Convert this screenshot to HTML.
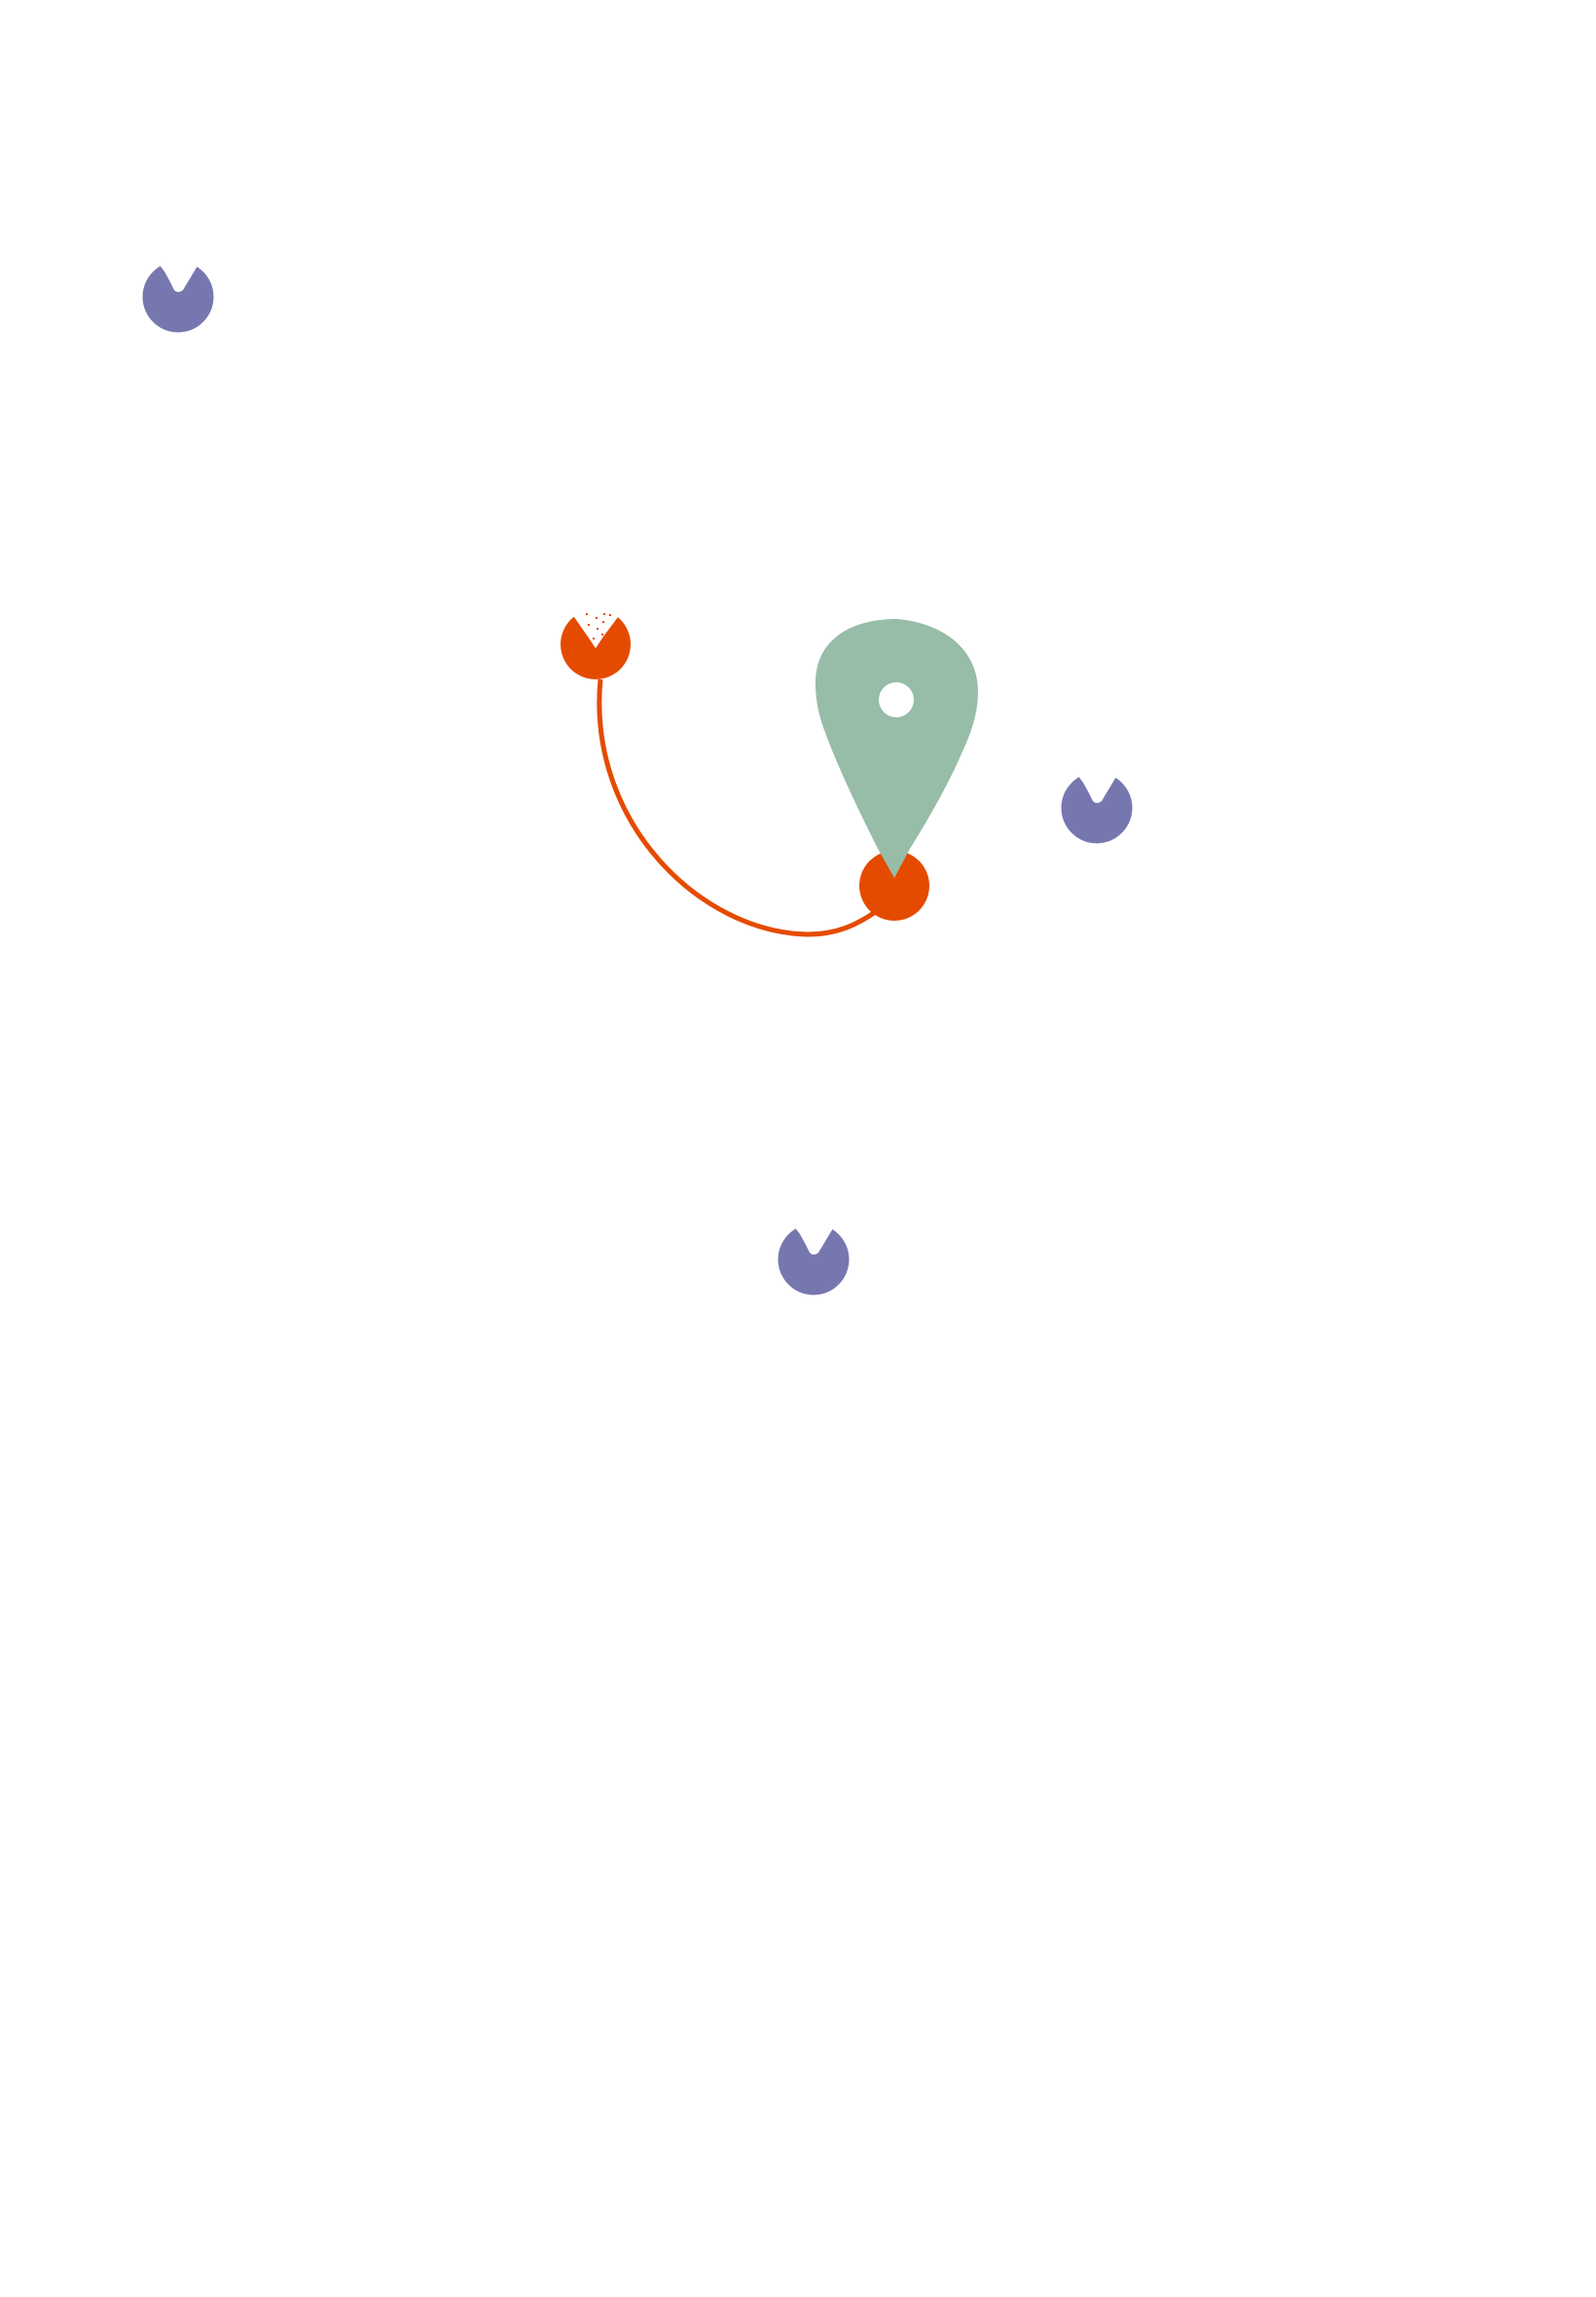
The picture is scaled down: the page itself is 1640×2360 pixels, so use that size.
<!DOCTYPE html>
<html><head><meta charset="utf-8"><style>html,body{margin:0;padding:0;background:#fff}svg{display:block}</style></head>
<body>
<svg width="1640" height="2360" viewBox="0 0 1640 2360" xmlns="http://www.w3.org/2000/svg">
<defs>
<g id="pac">
<circle cx="0" cy="0" r="36.5" fill="#7777b0"/>
<path d="M-20,-45 L-20,-34 L-14,-26 L-9,-17 L-4,-7 Q0,-3 5,-7 L20,-32 L20,-45 Z" fill="#fff"/>
</g>
</defs>
<use href="#pac" x="183" y="305"/>
<use href="#pac" x="1127" y="830"/>
<use href="#pac" x="836" y="1294"/>
<path d="M617,698 C603,845 720,958 830,960 C860,960 880,950 898,938" fill="none" stroke="#e54b00" stroke-width="5"/>
<circle cx="612" cy="662" r="36" fill="#e54b00"/>
<polygon points="590,620 590,634 604,654 612,666 620,654 635,634 635,620" fill="#fff"/>
<g fill="#e54b00">
<rect x="602" y="630" width="2" height="2"/><rect x="612" y="634" width="2" height="2"/><rect x="619" y="638" width="2" height="2"/>
<rect x="604" y="641" width="2" height="2"/><rect x="613" y="645" width="2" height="2"/><rect x="609" y="655" width="2" height="2"/>
<rect x="620" y="630" width="2" height="2"/><rect x="626" y="631" width="2" height="2"/><rect x="618" y="651" width="2" height="2"/>
</g>
<circle cx="919" cy="910" r="36" fill="#e54b00"/>
<path d="M919,902 L902,872 C882,832 862,790 850,758 C842,738 838,722 838,702 C838,660 870,636 922,636 C970,640 1005,668 1005,710 C1005,732 999,750 990,770 C975,805 955,840 935,872 Z" fill="#97bca7"/>
<circle cx="921" cy="719" r="18" fill="#fff"/>
</svg>
</body></html>
